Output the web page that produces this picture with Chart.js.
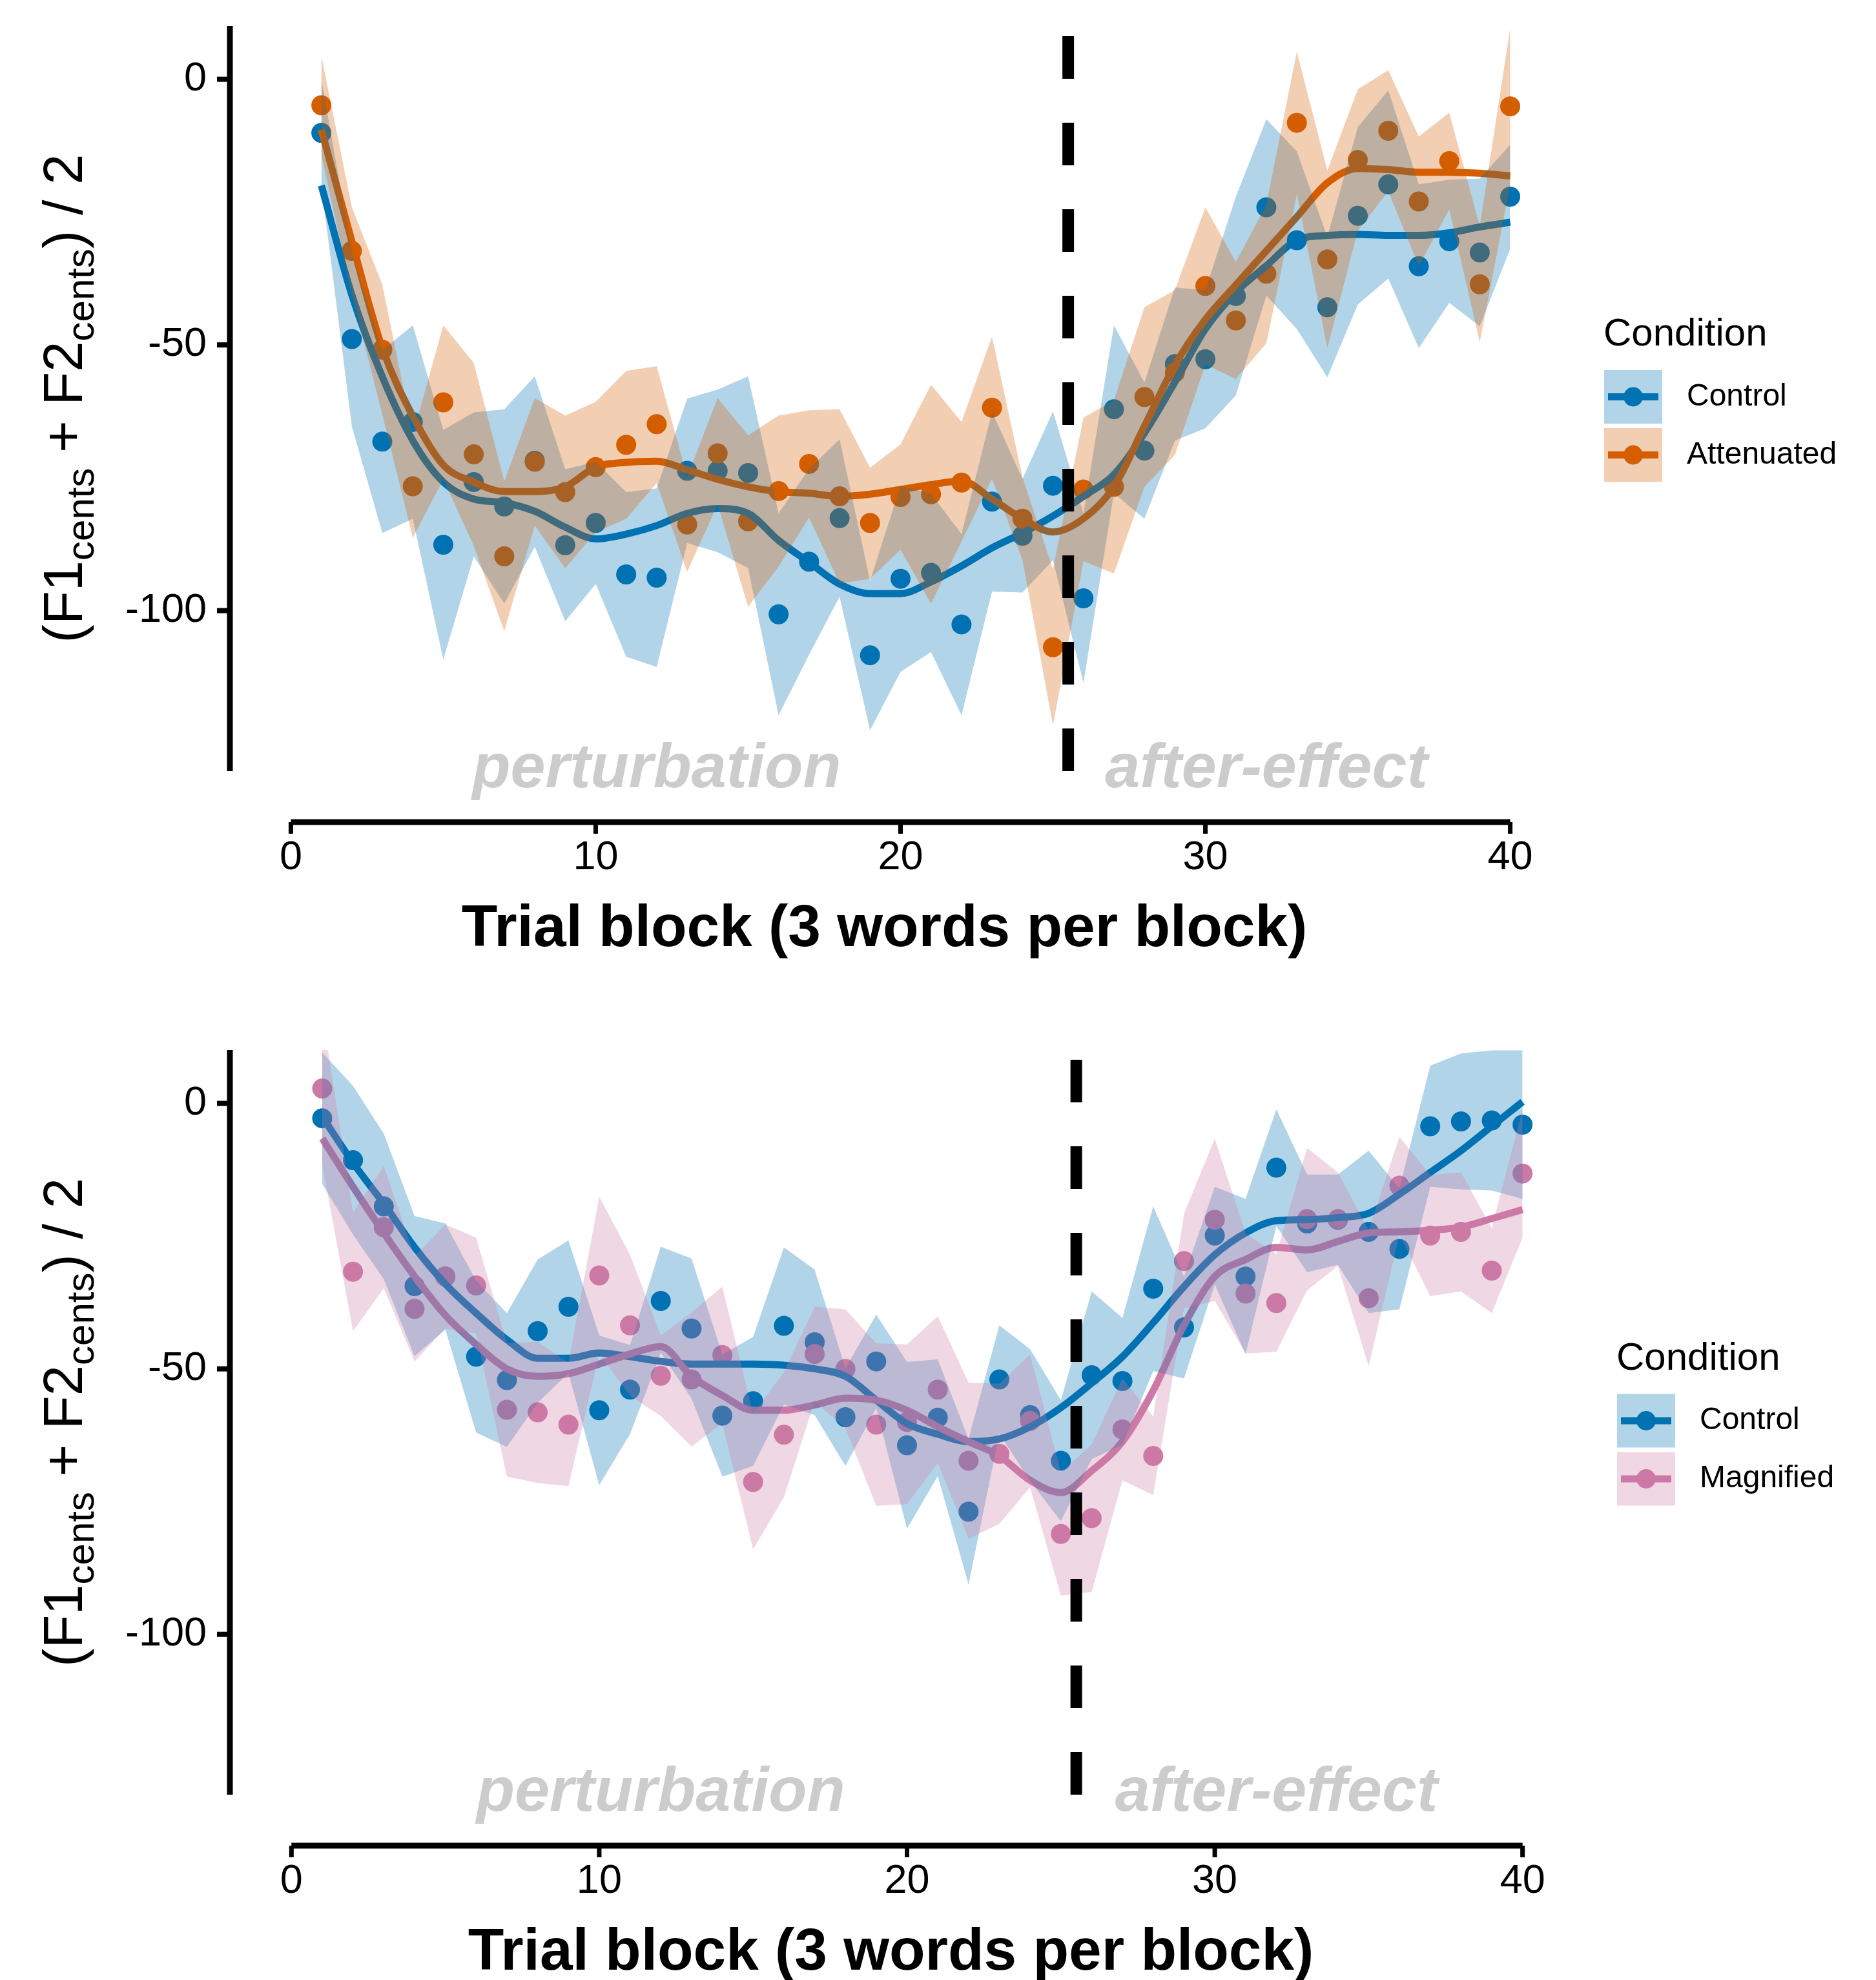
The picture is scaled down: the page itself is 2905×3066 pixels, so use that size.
<!DOCTYPE html>
<html>
<head>
<meta charset="utf-8">
<title>Formant change by trial block</title>
<script src="https://cdn.jsdelivr.net/npm/chart.js@4.4.1/dist/chart.umd.min.js"></script>
<style>
  body { margin: 0; background: #fff; }
  #wrap { position: relative; width: 2905px; height: 3066px; }
  .panel { position: absolute; left: 0; width: 2905px; height: 1533px; }
</style>
</head>
<body>
<div id="wrap">
  <div class="panel" style="top:0"><canvas id="topChart"></canvas></div>
  <div class="panel" style="top:1533px"><canvas id="bottomChart"></canvas></div>
</div>
<script>
const FONT = '"Liberation Sans", Arial, Helvetica, sans-serif';

// shared axes
const blocks = [1, 2, 3, 4, 5, 6, 7, 8, 9, 10, 11, 12, 13, 14, 15, 16, 17, 18, 19, 20,
                21, 22, 23, 24, 25, 26, 27, 28, 29, 30, 31, 32, 33, 34, 35, 36, 37, 38, 39, 40];
const xTicks = [0, 10, 20, 30, 40];
const yTicks = [-100, -50, 0];
const phaseBreak = 25.5;
const phaseNames = ['perturbation', 'after-effect'];
const phaseCentres = [12, 32];
const phaseLevel = -130;

// top panel: Control vs Attenuated
const topConditions = ['Control', 'Attenuated'];
const ctrlTopMean = [-10.1, -48.9, -68.2, -64.5, -87.6, -75.8, -80.4, -71.8, -87.7, -83.5,
                     -93.2, -93.8, -73.7, -73.7, -74.1, -100.7, -90.8, -82.6, -108.4, -94.0,
                     -92.9, -102.6, -79.5, -85.9, -76.5, -97.7, -62.1, -69.9, -53.6, -52.7,
                     -40.8, -24.1, -30.3, -42.9, -25.7, -19.8, -35.2, -30.5, -32.6, -22.1];
const ctrlTopHigh = [0, -32.5, -51, -46.3, -66, -62.7, -62.1, -55.9, -73.4, -72,
                     -77.7, -77, -60.1, -58.4, -55.9, -81.7, -73.3, -67.8, -94.4, -76.5,
                     -78, -85.6, -62.6, -75.2, -62.5, -81.7, -46.3, -57.1, -39.2, -39.7,
                     -22.1, -7.5, -13.6, -29.7, -9, -2.1, -19.8, -18.9, -18.7, -12.3];
const ctrlTopLow = [-20, -65.3, -85.4, -82.7, -109.2, -89.8, -98.7, -88, -102, -95,
                    -108.7, -110.6, -87.3, -89, -92, -119.7, -108.3, -97.4, -122.5, -111.5,
                    -107.8, -119.7, -96.4, -96.6, -90.5, -113.6, -77.9, -82.7, -68, -65.7,
                    -59.5, -40.7, -47, -56.1, -42.4, -37.5, -50.6, -42.1, -46.5, -31.9];
const ctrlTopSmooth = [-20, -40.6, -56, -68, -75.8, -79, -79.7, -81.3, -84.3, -86.5,
                       -85.6, -84, -81.7, -80.8, -81.7, -86.8, -90.9, -95, -96.8, -96.8,
                       -94.6, -91.6, -88.2, -85.4, -82.2, -78.5, -74.4, -66.6, -57, -47,
                       -40.1, -35.1, -30.3, -29.4, -29.2, -29.4, -29.4, -28.9, -27.8, -26.9];

const attMean = [-4.9, -32.3, -50.9, -76.6, -60.8, -70.6, -89.8, -72.0, -77.7, -73.0,
                 -68.8, -64.9, -83.8, -70.4, -83.2, -77.5, -72.4, -78.5, -83.5, -78.6,
                 -78.1, -75.9, -61.8, -82.7, -106.9, -77.2, -76.7, -59.8, -55.2, -38.9,
                 -45.4, -36.6, -8.2, -33.9, -15.2, -9.7, -23.0, -15.4, -38.6, -5.1];
const attHigh = [4.4, -24.1, -38.7, -66.9, -46.3, -53.4, -75.7, -60, -63.3, -60.7,
                 -54.9, -54, -74.8, -60, -67, -63.3, -62.3, -62.1, -73.1, -68.7,
                 -57.5, -64.5, -48.4, -74.9, -92.2, -63.7, -60.4, -42.9, -39.7, -24.1,
                 -34.4, -23.6, 5.2, -17.2, -1.9, 1.7, -10.8, -6.3, -27.7, 9.7];
const attLow = [-14.2, -40.5, -63.1, -86.3, -75.3, -87.8, -103.9, -84, -92, -85.3,
                -82.7, -76, -92.7, -80, -99.3, -91.7, -82.5, -94.9, -94, -88.5,
                -98.7, -87, -75.2, -90.5, -121.6, -90.7, -93, -76.7, -70.7, -53.7,
                -56.4, -49.7, -21.6, -50.6, -28.5, -21.1, -35.2, -24.5, -49.5, -19.9];
const attSmooth = [-9.5, -30.5, -50.6, -63.4, -72.6, -75.8, -77.6, -77.6, -76.7, -73,
                   -72.1, -71.9, -73.5, -75.3, -76.7, -77.6, -77.9, -78.5, -78.1, -77.2,
                   -76.3, -75.6, -79, -82.7, -85.2, -82.7, -76.7, -65.3, -53.8, -45.2,
                   -38.7, -32.3, -25.9, -19.5, -16.8, -17, -17.5, -17.5, -17.7, -18.2];

// bottom panel: Control vs Magnified
const bottomConditions = ['Control', 'Magnified'];
const ctrlBotMean = [-2.8, -10.7, -19.4, -34.4, -32.6, -47.7, -52.1, -42.9, -38.3, -57.8,
                     -53.9, -37.2, -42.4, -58.8, -56.1, -41.9, -45.0, -59.1, -48.6, -64.4,
                     -59.2, -76.9, -52.0, -58.7, -67.3, -51.2, -52.3, -34.9, -42.2, -24.9,
                     -32.6, -12.1, -22.6, -21.9, -24.2, -27.4, -4.3, -3.4, -3.2, -4.0];
const ctrlBotHigh = [9.6, 3.3, -5.7, -21.2, -22.6, -33.4, -39.5, -29.4, -25.8, -43.7,
                     -45.5, -27, -29.2, -47.3, -44, -27.1, -31.3, -49.9, -39.8, -48.7,
                     -48.2, -63.2, -41.8, -46.3, -55.9, -35.4, -40.4, -19.4, -32.6, -15.7,
                     -18, -1.1, -13.4, -13.4, -8.9, -16, 7.1, 9.4, 10, 10];
const ctrlBotLow = [-15.2, -24.7, -33.1, -47.6, -42.6, -62, -64.7, -56.4, -50.8, -71.9,
                    -62.3, -47, -55.6, -70.3, -68.3, -56.7, -58.7, -68.3, -57.4, -80.1,
                    -70.2, -90.6, -62.2, -71.1, -78.7, -67, -64.3, -50.4, -51.8, -34.1,
                    -47.2, -23.1, -31.8, -30.4, -39.5, -38.8, -15.7, -16.2, -16.4, -18];
const ctrlBotSmooth = [-2.5, -11.2, -18.9, -27.1, -34, -39.5, -44.5, -48, -48, -47,
                       -47.7, -48.6, -49.1, -49.1, -49.1, -49.3, -50, -51.4, -55.9, -60.3,
                       -62.3, -63.7, -63.2, -60.9, -57.3, -52.7, -47.7, -41.3, -34.5, -28.5,
                       -24.4, -22.1, -21.9, -21.5, -20.7, -17.1, -13, -8.9, -4.3, 0.3];

const magMean = [2.8, -31.7, -23.3, -38.7, -32.6, -34.3, -57.7, -58.2, -60.5, -32.4,
                 -41.8, -51.3, -52.0, -47.4, -71.3, -62.4, -47.2, -50.0, -60.5, -60.0,
                 -53.9, -67.3, -66.0, -59.8, -81.1, -78.1, -61.4, -66.4, -29.7, -21.9,
                 -35.8, -37.6, -21.8, -21.8, -36.7, -15.5, -24.9, -24.2, -31.5, -13.2];
const magHigh = [17, -20.5, -11.8, -28.8, -22.8, -25.3, -45.1, -44.9, -48.9, -17.6,
                 -28.5, -43.7, -39.4, -34.5, -58.6, -50.6, -38.3, -38.8, -45.2, -45.4,
                 -40.1, -52.6, -52.8, -47.3, -69.5, -64.2, -51.8, -59, -20.8, -6.6,
                 -24.5, -28.4, -8.4, -13, -23.9, -6.3, -13.5, -13, -23.5, -1.1];
const magLow = [-11.5, -42.9, -34.8, -48.6, -42.4, -43.3, -70.3, -71.5, -72.1, -47.2,
                -55.1, -58.9, -64.6, -60.3, -84, -74.2, -56.1, -61.2, -75.8, -75.5,
                -67.7, -82, -79.2, -72.3, -92.7, -92, -71, -73.8, -38.6, -37.2,
                -47.1, -46.8, -35.2, -30.6, -49.5, -24.7, -36.3, -35.4, -39.5, -25.3];
const magSmooth = [-6.6, -15.7, -24.4, -32.6, -39.9, -45.4, -50, -51.4, -50.9, -49.1,
                   -47.2, -45.8, -51.4, -55, -57.8, -57.8, -56.8, -55.5, -55.9, -57.8,
                   -60.9, -63.7, -66.4, -71, -73.3, -69.2, -63.7, -54.1, -41.8, -32.6,
                   -29.4, -27.1, -27.6, -26, -24.4, -24.2, -23.9, -23.3, -21.7, -20];

const colours = { Control: '#0072B2', Attenuated: '#D55E00', Magnified: '#CC79A7' };
const ribbonFill = { Control: 'rgba(0,114,178,0.3)', Attenuated: 'rgba(213,94,0,0.3)', Magnified: 'rgba(204,121,167,0.3)' };

const toPoints = arr => arr.map((v, i) => ({ x: blocks[i], y: v }));

// ribbons go on top of points and curves, like in the original figure
function buildDatasets(series) {
  const sets = [];
  series.forEach((s, k) => {
    const col = colours[s.name];
    sets.push({ label: s.name, data: toPoints(s.mean), showLine: false, pointRadius: 15.5,
                pointBackgroundColor: col, pointBorderWidth: 0, order: 5 - k, clip: false });
    sets.push({ label: s.name + ' smooth', data: toPoints(s.smooth), borderColor: col, borderWidth: 11,
                pointRadius: 0, cubicInterpolationMode: 'monotone', fill: false, order: 3 - k, clip: false });
    sets.push({ label: s.name + ' upper', data: toPoints(s.high), borderWidth: 0, borderColor: 'transparent',
                pointRadius: 0, tension: 0, fill: '+1', backgroundColor: ribbonFill[s.name], order: 1 - k, clip: false });
    sets.push({ label: s.name + ' lower', data: toPoints(s.low), borderWidth: 0, borderColor: 'transparent',
                pointRadius: 0, tension: 0, fill: false, order: 1 - k, clip: false });
  });
  return sets;
}

function drawYTitle(ctx, x, y) {
  const parts = [['(F1', false], ['cents', true], [' + F2', false], ['cents', true], [') / 2', false]];
  const big = '85px ' + FONT, small = '60px ' + FONT;
  ctx.save();
  ctx.translate(x, y);
  ctx.rotate(-Math.PI / 2);
  let total = 0;
  parts.forEach(p => { ctx.font = p[1] ? small : big; total += ctx.measureText(p[0]).width; });
  let cx = -total / 2;
  ctx.fillStyle = '#000';
  ctx.textAlign = 'left';
  ctx.textBaseline = 'alphabetic';
  parts.forEach(p => {
    ctx.font = p[1] ? small : big;
    ctx.fillText(p[0], cx, p[1] ? 18 : 0);
    cx += ctx.measureText(p[0]).width;
  });
  ctx.restore();
}

const decor = {
  id: 'decor',
  afterDatasetsDraw(chart) {
    const { ctx, chartArea: a, scales: { x, y } } = chart;
    ctx.save();
    // phase boundary
    const bx = x.getPixelForValue(phaseBreak);
    ctx.strokeStyle = '#000';
    ctx.lineWidth = 18;
    ctx.lineCap = 'butt';
    ctx.setLineDash([66, 68]);
    ctx.beginPath();
    ctx.moveTo(bx, a.bottom);
    ctx.lineTo(bx, a.top);
    ctx.stroke();
    ctx.setLineDash([]);
    // phase labels
    ctx.font = 'italic bold 97px ' + FONT;
    ctx.fillStyle = '#cccccc';
    ctx.textAlign = 'center';
    ctx.textBaseline = 'middle';
    phaseNames.forEach((t, i) => ctx.fillText(t, x.getPixelForValue(phaseCentres[i]), y.getPixelForValue(phaseLevel)));
    ctx.restore();
  },
  afterDraw(chart, args, opts) {
    const { ctx, chartArea: a, scales: { x, y } } = chart;
    ctx.save();
    ctx.strokeStyle = '#000';
    ctx.lineCap = 'butt';
    // y axis
    ctx.lineWidth = 9;
    ctx.beginPath();
    ctx.moveTo(a.left, a.top);
    ctx.lineTo(a.left, a.bottom);
    ctx.stroke();
    ctx.lineWidth = 8;
    y.ticks.forEach(t => {
      const py = y.getPixelForValue(t.value);
      ctx.beginPath();
      ctx.moveTo(a.left - 20, py);
      ctx.lineTo(a.left, py);
      ctx.stroke();
    });
    // offset x axis, capped at the first and last break
    const ay = a.bottom + 79;
    const xs = x.ticks.map(t => x.getPixelForValue(t.value));
    ctx.lineWidth = 9;
    ctx.beginPath();
    ctx.moveTo(xs[0], ay);
    ctx.lineTo(xs[xs.length - 1], ay);
    ctx.stroke();
    ctx.lineWidth = 7;
    xs.forEach(px => {
      ctx.beginPath();
      ctx.moveTo(px, ay);
      ctx.lineTo(px, ay + 18);
      ctx.stroke();
    });
    // axis titles
    ctx.fillStyle = '#000';
    ctx.font = 'bold 91px ' + FONT;
    ctx.textAlign = 'center';
    ctx.textBaseline = 'alphabetic';
    ctx.fillText('Trial block (3 words per block)', (a.left + a.right) / 2 - 25, a.bottom + 271);
    drawYTitle(ctx, a.left - 229, (a.top + a.bottom) / 2);
    // legend
    const lx = a.right + 50;
    const cy = (a.top + a.bottom) / 2;
    ctx.textAlign = 'left';
    ctx.font = '60px ' + FONT;
    ctx.fillText('Condition', lx, cy - 82);
    opts.conditions.forEach((name, i) => {
      const top = cy - 44 + i * 90;
      const mid = top + 41.5;
      ctx.fillStyle = ribbonFill[name];
      ctx.fillRect(lx + 1, top, 90, 83);
      ctx.strokeStyle = colours[name];
      ctx.lineWidth = 11;
      ctx.beginPath();
      ctx.moveTo(lx + 7, mid);
      ctx.lineTo(lx + 85, mid);
      ctx.stroke();
      ctx.fillStyle = colours[name];
      ctx.beginPath();
      ctx.arc(lx + 46, mid, 15, 0, Math.PI * 2);
      ctx.fill();
      ctx.fillStyle = '#000';
      ctx.font = '48px ' + FONT;
      ctx.textBaseline = 'middle';
      ctx.fillText(name, lx + 129, mid);
      ctx.textBaseline = 'alphabetic';
    });
    ctx.restore();
  }
};

// keep the plot panel exactly where the layout padding puts it
function noScalePadding(s) {
  s.paddingTop = 0;
  s.paddingBottom = 0;
  s.paddingLeft = 0;
  s.paddingRight = 0;
}

function makeChart(id, series, area) {
  return new Chart(document.getElementById(id), {
    type: 'line',
    data: { datasets: buildDatasets(series) },
    options: {
      responsive: true,
      maintainAspectRatio: false,
      animation: false,
      events: [],
      layout: { autoPadding: false, padding: { top: area.top, right: area.right, left: 0, bottom: 0 } },
      plugins: {
        legend: { display: false },
        tooltip: { enabled: false },
        decor: { conditions: series.map(s => s.name) }
      },
      scales: {
        x: {
          type: 'linear', min: -2, max: 42,
          afterBuildTicks: s => { s.ticks = xTicks.map(v => ({ value: v })); },
          afterFit: s => { s.height = area.axisHeight; noScalePadding(s); },
          grid: { display: false, drawTicks: false },
          border: { display: false },
          ticks: { padding: 97, color: '#000', font: { family: FONT, size: 63 } }
        },
        y: {
          type: 'linear', min: -130.2, max: 10.05,
          afterBuildTicks: s => { s.ticks = yTicks.map(v => ({ value: v })); },
          afterFit: s => { s.width = 356; noScalePadding(s); },
          grid: { display: false, drawTicks: false },
          border: { display: false },
          ticks: { padding: 36, color: '#000', font: { family: FONT, size: 63 } }
        }
      }
    },
    plugins: [decor]
  });
}

makeChart('topChart', [
  { name: topConditions[0], mean: ctrlTopMean, high: ctrlTopHigh, low: ctrlTopLow, smooth: ctrlTopSmooth },
  { name: topConditions[1], mean: attMean, high: attHigh, low: attLow, smooth: attSmooth }
], { top: 40, right: 472, axisHeight: 339 });

makeChart('bottomChart', [
  { name: bottomConditions[0], mean: ctrlBotMean, high: ctrlBotHigh, low: ctrlBotLow, smooth: ctrlBotSmooth },
  { name: bottomConditions[1], mean: magMean, high: magHigh, low: magLow, smooth: magSmooth }
], { top: 93, right: 452, axisHeight: 287 });
</script>
</body>
</html>
